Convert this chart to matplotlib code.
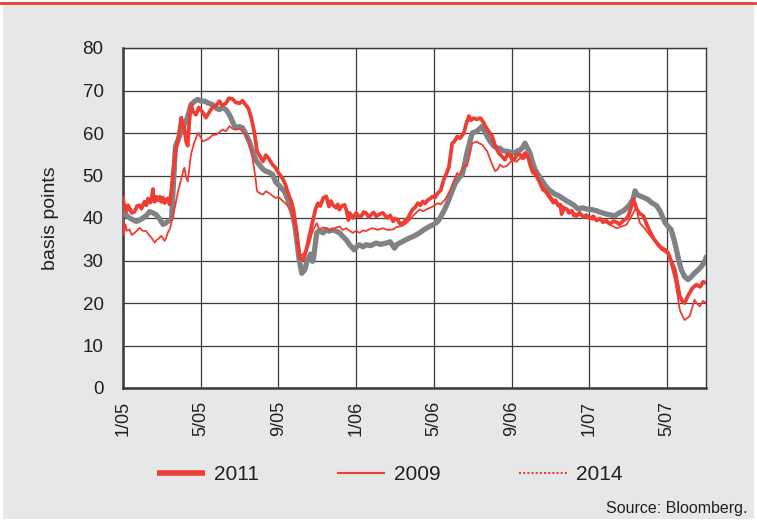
import matplotlib.pyplot as plt
from matplotlib.lines import Line2D
from matplotlib.patches import Rectangle

# months since Jan 2005, basis points
s2011 = [(0.0, 44.6), (0.08, 42.5), (0.17, 41.5), (0.25, 43), (0.34, 42.3), (0.45, 41.2), (0.6, 41.5),
         (0.72, 42.8), (0.86, 43), (0.95, 42.2), (1.1, 43.8), (1.2, 43), (1.29, 44.6), (1.4, 43.6), (1.48, 44.8),
         (1.54, 46.8), (1.58, 44), (1.63, 43.8), (1.72, 45), (1.8, 44.2), (1.9, 45), (1.97, 43.8), (2.06, 44.8),
         (2.14, 43.5), (2.22, 44.2), (2.3, 44.6), (2.4, 43.2), (2.5, 46.9), (2.57, 50.8), (2.62, 52.5),
         (2.7, 55.7), (2.85, 59), (3.0, 63.6), (3.08, 62), (3.16, 61), (3.25, 58), (3.33, 57), (3.42, 63),
         (3.5, 66.7), (3.6, 65), (3.76, 64.3), (3.9, 66), (4.0, 65.5), (4.15, 64.5), (4.27, 63.6), (4.45, 65),
         (4.6, 66), (4.8, 66.5), (4.96, 67.5), (5.1, 66.5), (5.3, 67), (5.45, 68.2), (5.64, 68), (5.8, 67.2),
         (6.0, 67), (6.15, 67.6), (6.3, 66.7), (6.45, 65.8), (6.6, 63.6), (6.75, 60.4), (6.9, 55.7),
         (7.05, 54.5), (7.2, 53.3), (7.35, 54.8), (7.5, 54), (7.7, 52.5), (7.86, 51.8), (8.0, 50.6), (8.2, 49.4),
         (8.35, 48), (8.5, 45.8), (8.65, 44), (8.77, 42), (8.94, 36.5), (9.1, 30.5), (9.28, 30.2), (9.43, 32.5),
         (9.6, 36), (9.78, 39.6), (9.9, 42), (10.03, 43.5), (10.15, 42.8), (10.3, 44.7), (10.46, 45.1),
         (10.55, 43.5), (10.6, 42.7), (10.7, 44), (10.8, 43.1), (10.97, 42.4), (11.05, 43.2), (11.14, 42),
         (11.25, 42.8), (11.4, 43.1), (11.5, 41.8), (11.6, 39.5), (11.66, 41.2), (11.75, 40.6), (11.83, 40),
         (12.0, 41.2), (12.1, 40.5), (12.26, 40.4), (12.38, 41.4), (12.5, 41.2), (12.65, 40.2), (12.77, 40.8),
         (12.9, 41.3), (13.03, 40.4), (13.2, 40.9), (13.37, 41.2), (13.5, 40.5), (13.63, 40), (13.75, 40.6),
         (13.9, 39.2), (14.0, 39.9), (14.14, 39.6), (14.25, 38.6), (14.4, 38.8), (14.55, 39.5), (14.66, 40),
         (14.8, 41.2), (14.9, 42), (15.05, 42.6), (15.17, 43.5), (15.3, 43), (15.43, 43.9), (15.55, 43.4),
         (15.7, 44.3), (15.82, 44.6), (15.94, 45.1), (16.05, 44.8), (16.2, 45.9), (16.35, 46.5), (16.5, 49),
         (16.65, 50.5), (16.77, 52), (16.94, 57.6), (17.05, 58), (17.2, 59.2), (17.35, 58.8), (17.54, 60),
         (17.65, 62), (17.8, 64), (17.9, 63), (18.05, 63.5), (18.2, 63.2), (18.4, 63.5), (18.55, 62.5),
         (18.65, 61.6), (18.8, 60.5), (19.0, 59.2), (19.15, 57), (19.33, 55.3), (19.5, 54.5), (19.66, 53.7),
         (19.78, 55), (19.9, 54.9), (20.05, 53.5), (20.17, 54.1), (20.3, 55), (20.43, 54.9), (20.55, 54.3),
         (20.69, 55.3), (20.86, 54.1), (20.95, 52.5), (21.1, 50.6), (21.2, 51), (21.37, 49), (21.5, 47.8),
         (21.6, 46.7), (21.75, 46.2), (21.9, 45.2), (22.0, 44.6), (22.14, 43.6), (22.25, 44.2), (22.4, 42.9),
         (22.5, 43.2), (22.57, 40.9), (22.7, 42.3), (22.83, 42.1), (22.95, 41.2), (23.1, 41.7), (23.2, 40.6),
         (23.34, 40.5), (23.5, 41.2), (23.7, 40.2), (23.85, 40.7), (24.03, 39.8), (24.2, 40.4), (24.37, 39.4),
         (24.55, 39.9), (24.7, 39), (24.85, 39.4), (25.06, 38.6), (25.25, 39.3), (25.4, 39), (25.55, 38.5),
         (25.75, 39.4), (25.9, 39.8), (26.0, 40.5), (26.1, 41.8), (26.17, 42.9), (26.26, 44.4), (26.34, 43.5),
         (26.43, 42.1), (26.6, 41), (26.78, 40.5), (26.95, 38.5), (27.1, 37), (27.3, 35.2), (27.5, 34),
         (27.7, 33), (27.9, 32.5), (28.05, 31.8), (28.2, 30), (28.4, 27.8), (28.55, 24), (28.65, 21.6),
         (28.78, 20.5), (28.9, 20), (29.05, 21.5), (29.16, 22.4), (29.3, 23.5), (29.5, 24.3), (29.7, 23.8),
         (29.85, 25), (30.0, 24.7)]

s2009 = [(0.0, 40), (0.04, 36), (0.12, 38.5), (0.2, 37), (0.34, 37.3), (0.45, 36), (0.6, 36.5), (0.75, 37.2),
         (0.86, 37.7), (1.0, 37), (1.2, 36.9), (1.3, 36.2), (1.46, 35.4), (1.55, 34.8), (1.63, 34.2),
         (1.72, 34.8), (1.8, 35), (1.97, 35.8), (2.06, 35.2), (2.14, 34.6), (2.22, 35.3), (2.3, 36.5),
         (2.42, 37.5), (2.5, 39.2), (2.66, 42.3), (2.83, 46.2), (3.0, 49.2), (3.1, 51), (3.16, 51.8),
         (3.25, 49.5), (3.33, 48.6), (3.42, 52), (3.5, 55), (3.65, 57.5), (3.85, 60), (4.0, 59), (4.1, 58),
         (4.3, 58.4), (4.45, 58.8), (4.6, 59.5), (4.8, 59.6), (4.96, 60.2), (5.13, 60.8), (5.3, 60.4),
         (5.47, 61.6), (5.65, 61), (5.8, 60.8), (6.0, 61), (6.15, 60.4), (6.3, 59.8), (6.4, 58.8), (6.55, 56.5),
         (6.67, 54), (6.8, 50), (6.9, 46.3), (7.05, 45.8), (7.2, 45.5), (7.35, 46.3), (7.5, 45.9), (7.7, 45.2),
         (7.86, 44.7), (8.0, 45), (8.17, 44.2), (8.35, 43.5), (8.5, 42.7), (8.7, 40.5), (8.85, 38), (9.0, 34.5),
         (9.1, 31), (9.25, 31.5), (9.37, 31.9), (9.5, 33), (9.6, 34.2), (9.7, 36), (9.8, 37.3), (9.97, 38.8),
         (10.1, 37.3), (10.3, 37.8), (10.46, 37.6), (10.6, 37), (10.8, 37.3), (10.97, 37.8), (11.14, 38),
         (11.3, 37.2), (11.5, 37.6), (11.66, 37), (11.83, 36.5), (12.0, 37), (12.17, 36.5), (12.35, 37.1),
         (12.5, 36.9), (12.7, 37.4), (12.86, 37.6), (13.1, 37.2), (13.37, 37.6), (13.6, 37.2), (13.9, 37.3),
         (14.05, 37.8), (14.23, 38), (14.4, 38.2), (14.57, 38.8), (14.75, 39.5), (14.9, 40.4), (15.1, 41.3),
         (15.26, 42), (15.45, 41.6), (15.6, 42), (15.8, 42.4), (15.94, 42.7), (16.2, 43.5), (16.34, 43.2),
         (16.6, 44.5), (16.85, 46.7), (17.0, 48.5), (17.2, 50.6), (17.3, 50), (17.45, 51.4), (17.6, 52.5),
         (17.7, 52.2), (17.85, 55), (17.97, 57.6), (18.1, 57.8), (18.2, 58), (18.35, 57.5), (18.48, 57.3),
         (18.6, 56.5), (18.74, 55.7), (18.9, 53.7), (19.05, 52), (19.16, 51), (19.3, 51.6), (19.4, 52.6),
         (19.55, 52), (19.74, 52.2), (19.9, 53), (20.08, 53.7), (20.25, 53.2), (20.43, 54.1), (20.6, 53.8),
         (20.77, 54.5), (20.9, 53.5), (21.03, 51.4), (21.15, 50.3), (21.3, 49.4), (21.5, 48), (21.73, 46.7),
         (21.95, 45.5), (22.15, 44.3), (22.4, 43.5), (22.67, 42.7), (22.9, 42), (23.2, 41.2), (23.45, 40.8),
         (23.7, 40.4), (23.95, 39.9), (24.2, 39.6), (24.5, 39.8), (24.9, 38.8), (25.15, 38.2), (25.4, 37.6),
         (25.65, 38), (25.9, 38.4), (26.1, 39.8), (26.26, 41.2), (26.43, 42.7), (26.5, 40.5), (26.6, 38.8),
         (26.8, 37.8), (26.94, 36.9), (27.1, 36), (27.3, 34.9), (27.5, 33.6), (27.7, 32.5), (27.9, 32),
         (28.05, 31.4), (28.2, 29), (28.4, 25.5), (28.55, 21.5), (28.65, 18.4), (28.78, 17), (28.9, 16),
         (29.05, 16.5), (29.16, 16.9), (29.3, 19), (29.4, 20.8), (29.55, 19.8), (29.68, 19.2), (29.85, 20.5),
         (30.0, 20)]

# grey series (not in legend)
s_grey = [(0.0, 41.2), (0.17, 40.6), (0.34, 40), (0.5, 39.6), (0.69, 39.2), (0.85, 39.5), (1.03, 40),
          (1.2, 40.6), (1.37, 41.5), (1.54, 41.2), (1.7, 40.8), (1.88, 39.8), (2.06, 38.5), (2.2, 38.8),
          (2.3, 39.2), (2.42, 39.5), (2.5, 40), (2.56, 45), (2.62, 50), (2.7, 56.9), (2.85, 58.5), (3.0, 60.4),
          (3.1, 61.5), (3.25, 62.8), (3.4, 65), (3.5, 66.7), (3.7, 67.5), (3.85, 67.9), (4.0, 67.5), (4.2, 67.5),
          (4.4, 67), (4.6, 66.7), (4.8, 65.8), (4.96, 65.5), (5.1, 66), (5.3, 65.5), (5.45, 64.5), (5.55, 63.6),
          (5.7, 62), (5.8, 61.2), (6.0, 61.5), (6.15, 61.2), (6.3, 60), (6.5, 58), (6.67, 55.7), (6.85, 53.5),
          (7.0, 52.6), (7.2, 51.5), (7.35, 51), (7.5, 50.8), (7.7, 50.2), (7.85, 48.5), (8.0, 47.8),
          (8.17, 46.9), (8.3, 46.3), (8.5, 44.2), (8.7, 41.5), (8.85, 38), (8.96, 34), (9.06, 30.4), (9.2, 27),
          (9.3, 27.5), (9.37, 28), (9.45, 29.5), (9.54, 30.4), (9.65, 31.5), (9.75, 29.8), (9.8, 30.4),
          (9.9, 34), (9.97, 36.5), (10.1, 37), (10.3, 36.5), (10.45, 37.3), (10.6, 36.9), (10.8, 37.2),
          (10.97, 36.9), (11.15, 36.5), (11.3, 35.7), (11.5, 34.8), (11.66, 33.7), (11.9, 32.5), (12.05, 33.4),
          (12.17, 33.7), (12.35, 33.2), (12.5, 33.7), (12.75, 33.5), (13.03, 34.1), (13.25, 33.8),
          (13.54, 34.1), (13.75, 34.4), (13.97, 32.9), (14.1, 33.8), (14.23, 34.1), (14.5, 34.7), (14.74, 35.3),
          (15.0, 35.8), (15.26, 36.5), (15.5, 37.3), (15.77, 38), (16.0, 38.5), (16.2, 39.2), (16.34, 40.2),
          (16.55, 42), (16.77, 44.3), (16.95, 46.5), (17.1, 48.2), (17.3, 49.5), (17.45, 50.2), (17.55, 52),
          (17.7, 55.3), (17.85, 58), (17.97, 60), (18.2, 60.4), (18.35, 61), (18.48, 61.6), (18.6, 60.5),
          (18.74, 59.2), (18.9, 58), (19.08, 56.9), (19.25, 56.5), (19.4, 56.4), (19.55, 55.8), (19.74, 55.7),
          (19.95, 55.5), (20.17, 55.3), (20.3, 55.8), (20.43, 56), (20.55, 56.5), (20.69, 57.6), (20.8, 56.5),
          (20.94, 55.3), (21.05, 53.5), (21.2, 51.4), (21.35, 50.3), (21.54, 49), (21.7, 47.8), (21.9, 46.7),
          (22.05, 46.2), (22.23, 45.6), (22.4, 45.3), (22.57, 44.8), (22.8, 44.1), (23.0, 43.6), (23.2, 43),
          (23.43, 42.1), (23.65, 42.4), (23.86, 42.1), (24.1, 42), (24.37, 41.7), (24.6, 41.3), (24.9, 40.9),
          (25.1, 40.7), (25.3, 40.5), (25.5, 41.1), (25.75, 41.7), (25.95, 42.5), (26.1, 43.3), (26.25, 44.5),
          (26.35, 46.4), (26.45, 45.5), (26.6, 45.2), (26.8, 44.8), (27.0, 44.4), (27.2, 43.6), (27.46, 42.9),
          (27.65, 41.5), (27.88, 39), (28.05, 38), (28.2, 37.3), (28.35, 35), (28.48, 32.5), (28.6, 30),
          (28.73, 27.8), (28.9, 26.2), (29.07, 25.5), (29.25, 26.2), (29.4, 27), (29.6, 27.8), (29.76, 28.6),
          (29.9, 29.5), (30.0, 30.6)]

tick_pos = [0, 4, 8, 12, 16, 20, 24, 28]
tick_labels = ["1/05", "5/05", "9/05", "1/06", "5/06", "9/06", "1/07", "5/07"]

RED = "#ee3d32"
GREY = "#808285"
BG = "#e6e7e9"
TXT = "#231f20"

plt.rcParams["font.family"] = ["Liberation Sans", "DejaVu Sans"]

fig = plt.figure(figsize=(7.57, 5.24), dpi=100)
fig.patch.set_facecolor("white")
fig.patches.append(Rectangle((3 / 757, 5 / 524), 751 / 757, 514 / 524, transform=fig.transFigure,
                             facecolor=BG, edgecolor="none", zorder=-10))
fig.lines.append(Line2D([0, 1], [1 - 3 / 524, 1 - 3 / 524], transform=fig.transFigure, color=RED, lw=2))

ax = fig.add_axes([123 / 757, 1 - 388 / 524, 583 / 757, 340 / 524])
ax.set_facecolor("white")


def unzip(pairs):
    return [p[0] for p in pairs], [p[1] for p in pairs]


x, y = unzip(s_grey)
ax.plot(x, y, color=GREY, lw=3.8, solid_joinstyle="round", zorder=3)
x, y = unzip(s2011)
ax.plot(x, y, color=RED, lw=2.7, solid_joinstyle="round", zorder=4)
x, y = unzip(s2009)
ax.plot(x, y, color=RED, lw=1.3, zorder=5)

ax.set_xlim(0, 30)
ax.set_ylim(0, 80)
ax.set_yticks(range(0, 81, 10))
ax.set_xticks(tick_pos)
ax.set_xticklabels(tick_labels, rotation=90)
ax.tick_params(length=0, labelsize=13.5, colors=TXT)
ax.tick_params(axis="y", pad=14)
ax.tick_params(axis="x", pad=9, labelsize=13)
ax.grid(True, color="#3a3a3a", lw=0.9)
ax.set_axisbelow(True)
for side in ["top", "right"]:
    ax.spines[side].set_linewidth(1.0)
    ax.spines[side].set_color("#3a3a3a")
for side in ["left", "bottom"]:
    ax.spines[side].set_linewidth(1.8)
    ax.spines[side].set_color("#3a3a3a")
ax.set_ylabel("basis points", fontsize=14, color=TXT, labelpad=17)

handles = [Line2D([], [], color=RED, lw=4, solid_capstyle="butt"),
           Line2D([], [], color=RED, lw=1.5, solid_capstyle="butt"),
           Line2D([], [], color=RED, lw=1.5, linestyle=(0, (1, 1)))]
fig.legend(handles, ["2011", "2009", "2014"], loc="center", bbox_to_anchor=(0.515, 0.094), ncol=3,
           frameon=False, fontsize=15, handlelength=2.3, handletextpad=0.45, columnspacing=3.75,
           labelcolor=TXT)

fig.text(747 / 757, 1 - 509 / 524, "Source: Bloomberg.", ha="right", va="center", fontsize=11.5, color=TXT)

fig.savefig("out.png", dpi=100, facecolor=fig.get_facecolor())
